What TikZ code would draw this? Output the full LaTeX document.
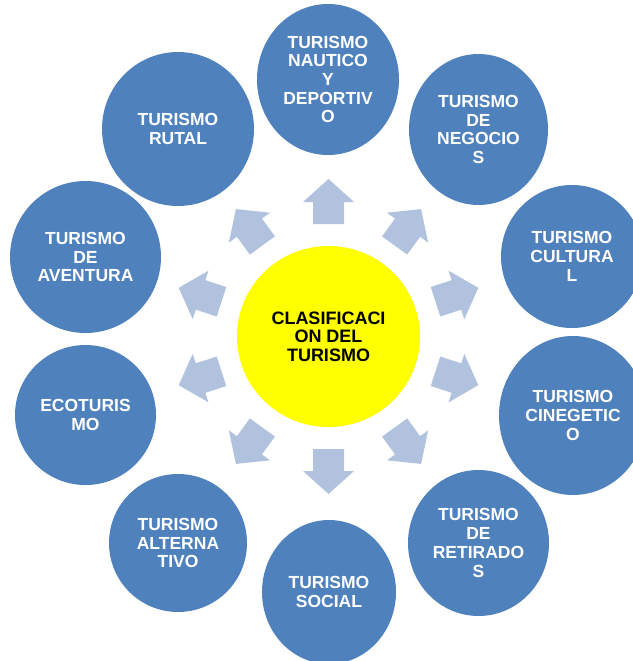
\documentclass[tikz,border=0pt]{standalone}
\usepackage{fontspec}
\setmainfont{Liberation Sans}
\usetikzlibrary{shapes.geometric}
\definecolor{outerblue}{RGB}{79,129,189}
\definecolor{arrowblue}{RGB}{176,194,222}
\definecolor{coreyellow}{RGB}{255,255,0}
\begin{document}
\begin{tikzpicture}[x=1pt,y=1pt,
  outer/.style={ellipse, fill=outerblue, inner sep=0pt, text=white,
    font=\bfseries\fontsize{17.5}{18.7}\selectfont, align=center},
  core/.style={ellipse, fill=coreyellow, inner sep=0pt, text=black,
    minimum width=183, minimum height=181,
    font=\bfseries\fontsize{18}{18.5}\selectfont, align=center},
  blockarrow/.style={fill=arrowblue}]
\useasboundingbox (0,-661) rectangle (632,0);
\node[core] (c) at (328.5,-336.5) {CLASIFICACI\\ON DEL\\TURISMO};
\node[outer, minimum width=142, minimum height=151] (n1) at (328,-79.5) {TURISMO\\NAUTICO\\Y\\DEPORTIV\\O};
\node[outer, minimum width=139, minimum height=151] (n2) at (478.5,-129.5) {TURISMO\\DE\\NEGOCIO\\S};
\node[outer, minimum width=142, minimum height=143] (n3) at (572,-256.5) {TURISMO\\CULTURA\\L};
\node[outer, minimum width=148, minimum height=159] (n4) at (573,-415.5) {TURISMO\\CINEGETIC\\O};
\node[outer, minimum width=141, minimum height=146] (n5) at (478.5,-543) {TURISMO\\DE\\RETIRADO\\S};
\node[outer, minimum width=134, minimum height=144] (n6) at (329,-592) {TURISMO\\SOCIAL};
\node[outer, minimum width=138, minimum height=138] (n7) at (178,-543) {TURISMO\\ALTERNA\\TIVO};
\node[outer, minimum width=141, minimum height=140] (n8) at (85.5,-415) {ECOTURIS\\MO};
\node[outer, minimum width=151, minimum height=152] (n9) at (85.5,-257) {TURISMO\\DE\\AVENTURA};
\node[outer, minimum width=152, minimum height=154] (n10) at (178,-129) {TURISMO\\RUTAL};
\foreach \a in {90,54,18,-18,-54,-90,-126,-162,162,126}{
  \fill[blockarrow, shift={(c.center)}, rotate=\a]
    (112.5,-15.5) -- (134.5,-15.5) -- (134.5,-25.5) -- (157.5,0)
    -- (134.5,25.5) -- (134.5,15.5) -- (112.5,15.5) -- cycle;
}
\end{tikzpicture}
\end{document}
